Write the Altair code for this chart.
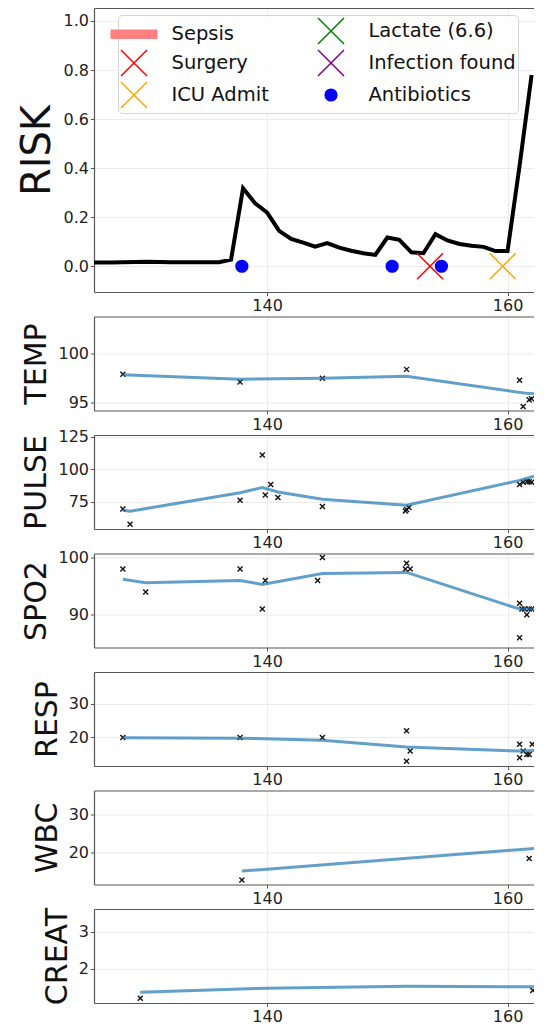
import altair as alt
import pandas as pd

# ---------------- data ----------------
risk_t = [125, 126, 127, 128, 129, 130, 131, 132, 133, 134, 135, 136, 137, 138, 139, 140,
          141, 142, 143, 144, 145, 146, 147, 148, 149, 150, 151, 152, 153, 154, 155, 156,
          157, 158, 159, 160, 161, 162]
risk_v = [0.015, 0.015, 0.015, 0.016, 0.017, 0.018, 0.017, 0.016, 0.016, 0.016, 0.016, 0.016,
          0.027, 0.318, 0.257, 0.219, 0.144, 0.111, 0.096, 0.080, 0.094, 0.076, 0.063, 0.053,
          0.046, 0.117, 0.108, 0.057, 0.053, 0.131, 0.105, 0.091, 0.084, 0.079, 0.062, 0.062,
          0.41, 0.78]

event_name = ["Surgery", "ICU Admit", "Antibiotics", "Antibiotics", "Antibiotics"]
event_t = [153.55, 159.6, 137.9, 150.4, 154.5]
event_v = [0.0, 0.0, 0.0, 0.0, 0.0]

legend_order = ["Sepsis", "Surgery", "ICU Admit", "Lactate (6.6)", "Infection found", "Antibiotics"]
legend_stroke = ["#ff8080", "#ff0000", "#ffa500", "#008000", "#800080", "#0000ff"]
legend_fill = ["#ff8080", "transparent", "transparent", "transparent", "transparent", "#0000ff"]

temp_t = [128.0, 137.75, 144.6, 151.6, 161.0, 161.3, 161.8, 162.0]
temp_v = [97.9, 97.1, 97.5, 98.4, 97.3, 94.6, 95.3, 95.4]
temp_line_t = [128.0, 137.75, 144.6, 151.6, 161.6, 162.2]
temp_line_v = [97.85, 97.4, 97.5, 97.7, 95.95, 95.9]

pulse_t = [128.0, 128.6, 137.75, 139.6, 139.85, 140.3, 140.9, 144.6, 151.5, 151.6, 151.8,
           161.0, 161.3, 161.6, 161.8, 162.0]
pulse_v = [69.3, 57.4, 76.0, 110.8, 80.1, 88.1, 78.1, 71.1, 67.7, 68.8, 70.4,
           88.1, 89.9, 90.5, 90.2, 89.9]
pulse_line_t = [128.0, 128.6, 137.75, 139.6, 140.9, 144.6, 151.6, 161.0, 162.2]
pulse_line_v = [68.3, 67.5, 81.7, 85.8, 82.4, 76.8, 72.1, 91.3, 94.6]

spo2_t = [128.0, 129.9, 137.75, 139.6, 139.85, 144.2, 144.6, 151.5, 151.6, 151.9,
          161.0, 161.0, 161.2, 161.4, 161.6, 161.8, 162.0]
spo2_v = [98, 94, 98, 91, 96, 96, 100, 98, 99, 98, 92, 86, 91, 91, 90, 91, 91]
spo2_line_t = [128.0, 129.9, 137.75, 139.6, 144.6, 151.6, 161.0, 162.2]
spo2_line_v = [96.2, 95.6, 96.0, 95.3, 97.2, 97.4, 91.0, 91.0]

resp_t = [128.0, 137.75, 144.6, 151.6, 151.6, 151.9, 161.0, 161.0, 161.3, 161.6, 161.8, 162.05]
resp_v = [20, 20, 20, 22, 13, 16, 18, 14, 16, 15, 15, 18]
resp_line_t = [128.0, 137.75, 144.6, 151.6, 161.0, 162.2]
resp_line_v = [19.9, 19.8, 19.2, 17.2, 16.0, 16.2]

wbc_t = [137.9, 161.8]
wbc_v = [12.9, 18.5]
wbc_line_t = [137.9, 162.2]
wbc_line_v = [15.2, 21.1]

creat_t = [129.45, 162.1]
creat_v = [1.21, 1.42]
creat_line_t = [129.45, 140.0, 151.6, 162.2]
creat_line_v = [1.37, 1.48, 1.53, 1.52]

x_ticks = [140, 160]
x_domain = [125.6, 162.2]

# ---------------- styling ----------------
FONT = "DejaVu Sans"
W = 440
H_RISK = 284
H = 94
X_PATH = "M-1,-1L1,1M1,-1L-1,1"
CIRCLE_PATH = "M0.45,0A0.45,0.45,0,1,1,-0.45,0A0.45,0.45,0,1,1,0.45,0Z"
BAR_PATH = "M-1.75,-0.3H1.75V0.3H-1.75Z"
legend_shapes = [BAR_PATH, X_PATH, X_PATH, X_PATH, X_PATH, CIRCLE_PATH]


def x_bottom():
    return alt.X("t:Q", scale=alt.Scale(domain=x_domain, nice=False, zero=False),
                 axis=alt.Axis(values=x_ticks, format="d", title=None, grid=True,
                               labelFlush=False, orient="bottom"))


def x_top():
    return alt.X("t:Q", scale=alt.Scale(domain=x_domain, nice=False, zero=False),
                 axis=alt.Axis(orient="top", labels=False, ticks=False, grid=False,
                               domain=True, title=None))


def y_enc(title, dom, ticks, fmt, tsize):
    return alt.Y("v:Q", scale=alt.Scale(domain=dom, nice=False, zero=False),
                 axis=alt.Axis(values=ticks, format=fmt, title=title, titleFontSize=tsize,
                               titlePadding=6, grid=True, labelFlush=False))


# ---------------- risk panel ----------------
risk_df = pd.DataFrame({"t": risk_t, "v": risk_v})
ev_df = pd.DataFrame({"t": event_t, "v": event_v, "event": event_name})

y_risk = y_enc("RISK", [-0.105, 1.053], [0, 0.2, 0.4, 0.6, 0.8, 1.0], ".1f", 40)

leg = alt.Legend(title=None, orient="none", legendX=24, legendY=7, columns=2,
                 labelFont=FONT, labelFontSize=19.5, labelColor="#111", labelLimit=0,
                 symbolSize=676, symbolStrokeWidth=1.5, labelOffset=23.5,
                 columnPadding=46, rowPadding=0, padding=2,
                 strokeColor="#d5d5d5", fillColor="rgba(255,255,255,0.8)", cornerRadius=4)

risk_line = alt.Chart(risk_df).mark_line(color="black", strokeWidth=4, clip=True).encode(
    x=x_bottom(), y=y_risk)
events = alt.Chart(ev_df).mark_point(size=676, opacity=1, strokeWidth=1.5, clip=True).encode(
    x=x_top(), y=y_risk,
    shape=alt.Shape("event:N", scale=alt.Scale(domain=legend_order, range=legend_shapes), legend=leg),
    stroke=alt.Stroke("event:N", scale=alt.Scale(domain=legend_order, range=legend_stroke), legend=leg),
    fill=alt.Fill("event:N", scale=alt.Scale(domain=legend_order, range=legend_fill), legend=leg),
)
risk_panel = alt.layer(risk_line, events).resolve_axis(x="independent").properties(
    width=W, height=H_RISK)


# ---------------- vital panels ----------------
def vital_panel(name, pt_t, pt_v, ln_t, ln_v, dom, ticks):
    pts = pd.DataFrame({"t": pt_t, "v": pt_v})
    ln = pd.DataFrame({"t": ln_t, "v": ln_v})
    y = y_enc(name, dom, ticks, "d", 30)
    p = alt.Chart(pts).mark_point(shape=X_PATH, size=25, stroke="#111", strokeWidth=1.4,
                                  opacity=1, clip=True).encode(x=x_top(), y=y)
    l = alt.Chart(ln).mark_line(color="#1f77b4", opacity=0.7, strokeWidth=3, clip=True).encode(
        x=x_bottom(), y=y)
    return alt.layer(p, l).resolve_axis(x="independent").properties(width=W, height=H)


temp_panel = vital_panel("TEMP", temp_t, temp_v, temp_line_t, temp_line_v, [94.2, 103.8], [95, 100])
pulse_panel = vital_panel("PULSE", pulse_t, pulse_v, pulse_line_t, pulse_line_v, [53.8, 126.3], [75, 100, 125])
spo2_panel = vital_panel("SPO2", spo2_t, spo2_v, spo2_line_t, spo2_line_v, [84.3, 100.7], [90, 100])
resp_panel = vital_panel("RESP", resp_t, resp_v, resp_line_t, resp_line_v, [11.6, 39.3], [20, 30])
wbc_panel = vital_panel("WBC", wbc_t, wbc_v, wbc_line_t, wbc_line_v, [11.7, 36.2], [20, 30])
creat_panel = vital_panel("CREAT", creat_t, creat_v, creat_line_t, creat_line_v, [1.08, 3.62], [2, 3])

chart = alt.vconcat(risk_panel, temp_panel, pulse_panel, spo2_panel, resp_panel, wbc_panel,
                    creat_panel, spacing=24.5, bounds="flush").properties(
    padding={"left": 9, "top": 0, "right": 0, "bottom": 0}
).configure_view(stroke=None).configure_axis(
    labelFont=FONT, labelFontSize=16, labelColor="#222", titleFont=FONT,
    titleFontWeight="normal", titleColor="#111", gridColor="#ebebeb", gridWidth=1,
    domainColor="#555", domainWidth=1.2, tickColor="#555", tickSize=3.5, labelPadding=2
)

chart.save("out.html", embed_options={"renderer": "svg", "actions": False})
